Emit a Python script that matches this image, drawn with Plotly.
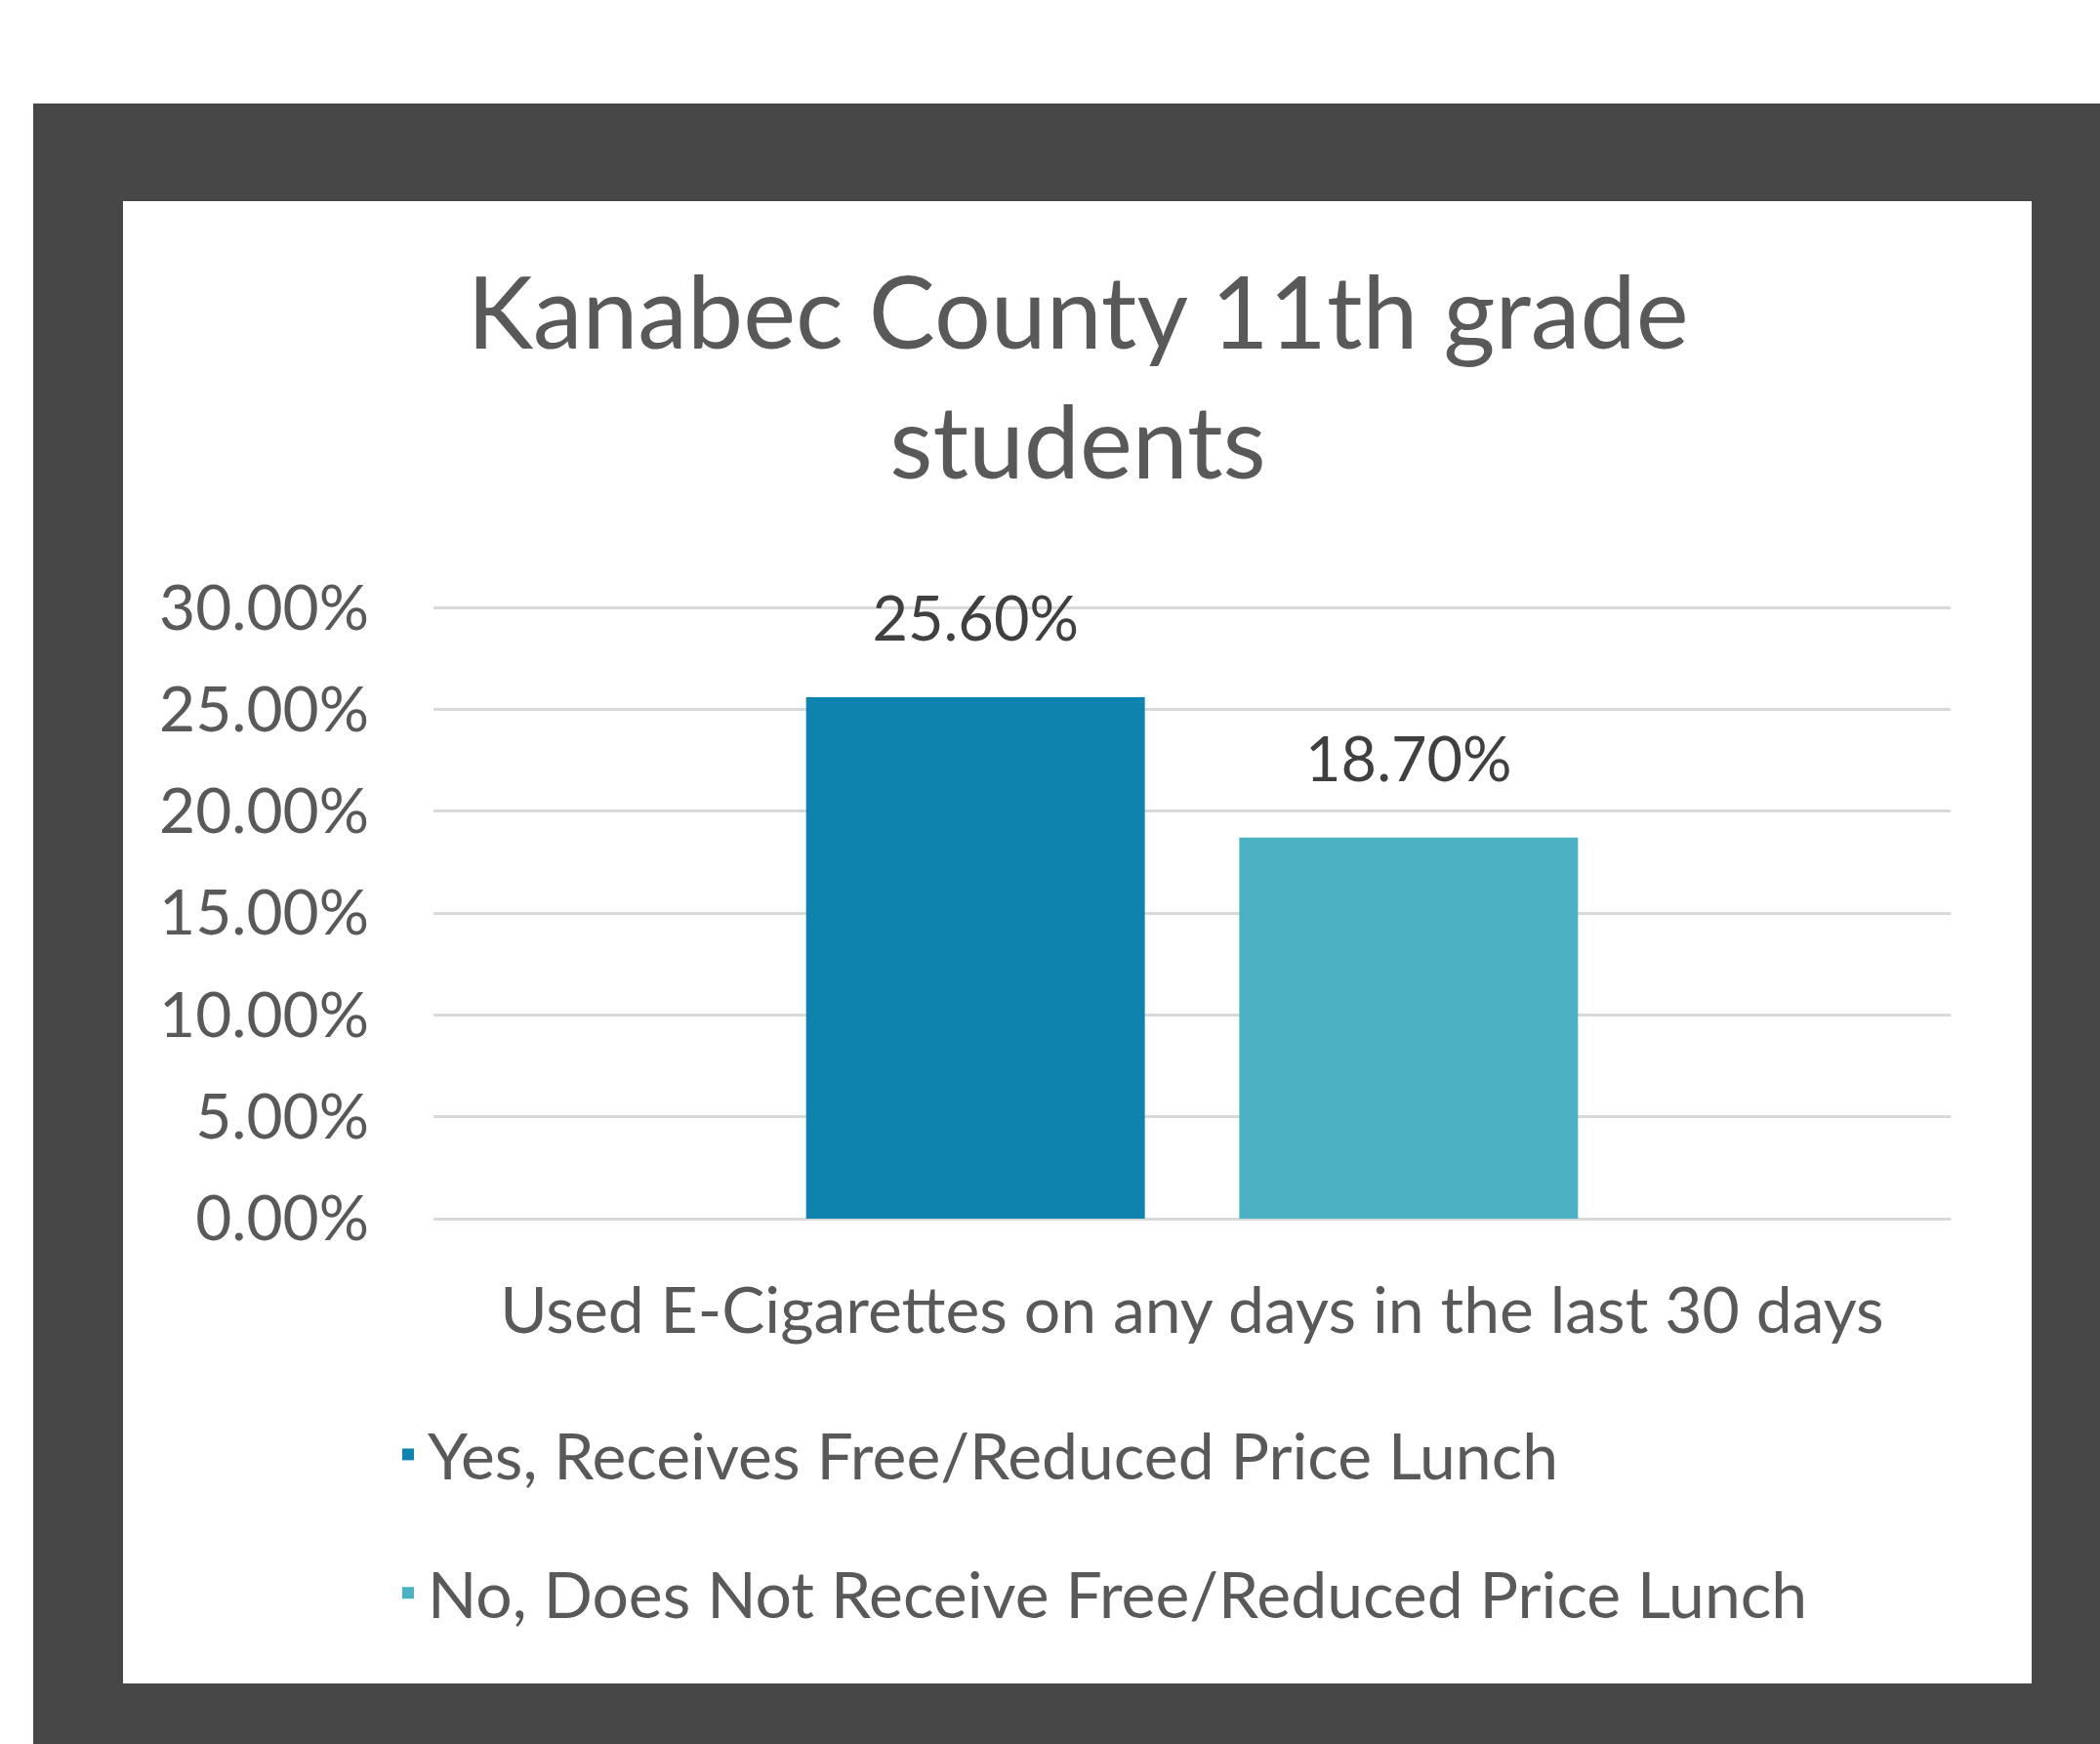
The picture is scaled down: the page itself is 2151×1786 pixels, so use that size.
import plotly.graph_objects as go

# ---- data ----
categories = ["Used E-Cigarettes on any days in the last 30 days"]
series_names = ["Yes, Receives Free/Reduced Price Lunch",
                "No, Does Not Receive Free/Reduced Price Lunch"]
yes_values = [0.256]
no_values = [0.187]
series_colors = ["#0E83AD", "#4BB1C3"]
title_text = "Kanabec County 11th grade<br>students"
y_tick_vals = [0, 0.05, 0.10, 0.15, 0.20, 0.25, 0.30]

# ---- layout geometry ----
W, H = 2151, 1786
L, R, T, B = 444, 153, 619, 538
PW, PH = W - L - R, H - T - B


def px(x):
    return (x - L) / PW


def py(y):
    return (H - B - y) / PH


FONT = "Lato"
TXT = "#595959"

fig = go.Figure()
for name, vals, col in zip(series_names, [yes_values, no_values], series_colors):
    fig.add_trace(go.Bar(
        name=name,
        x=categories,
        y=vals,
        marker=dict(color=col, line=dict(width=0)),
        text=[f"<span style='font-size:63px'>{v*100:.2f}%</span><br> " for v in vals],
        textposition="outside",
        textfont=dict(family=FONT, size=36, color="#404040"),
        constraintext="none",
        cliponaxis=False,
        legendgroup=name,
        hoverinfo="skip",
    ))

shapes = [
    dict(type="rect", xref="paper", yref="paper", layer="below",
         x0=px(34), x1=px(W + 20), y0=py(106), y1=py(H + 20),
         fillcolor="#474747", line=dict(width=0)),
    dict(type="rect", xref="paper", yref="paper", layer="below",
         x0=px(126), x1=px(2081), y0=py(206), y1=py(1724),
         fillcolor="#FFFFFF", line=dict(width=0)),
]

fig.update_layout(
    width=W, height=H,
    margin=dict(l=L, r=R, t=T, b=B, pad=0),
    paper_bgcolor="#FFFFFF",
    plot_bgcolor="rgba(0,0,0,0)",
    shapes=shapes,
    barmode="group",
    bargap=0.429,
    bargroupgap=0.218,
    font=dict(family=FONT, color=TXT),
    title=dict(text=title_text, x=1104 / W, xanchor="center", xref="container",
               y=1 - 357 / H, yanchor="top", yref="container",
               font=dict(family=FONT, size=102, color=TXT)),
    showlegend=True,
    legend=dict(orientation="v", x=px(398), xanchor="left",
                y=py(1440), yanchor="top",
                font=dict(family=FONT, size=66, color=TXT),
                tracegroupgap=53, bgcolor="rgba(0,0,0,0)",
                traceorder="grouped", itemwidth=30),
    xaxis=dict(showgrid=False, showline=False, ticks="", zeroline=False,
               tickfont=dict(family=FONT, size=66, color=TXT),
               ticklabelstandoff=50),
    yaxis=dict(range=[0, 0.3015], tickvals=y_tick_vals, tickformat=".2%",
               showgrid=True, gridcolor="#D9D9D9", gridwidth=3,
               zeroline=True, zerolinecolor="#D9D9D9", zerolinewidth=3,
               showline=False, ticks="",
               tickfont=dict(family=FONT, size=64, color=TXT),
               ticklabelstandoff=65),
)

fig.write_html("out.html")
